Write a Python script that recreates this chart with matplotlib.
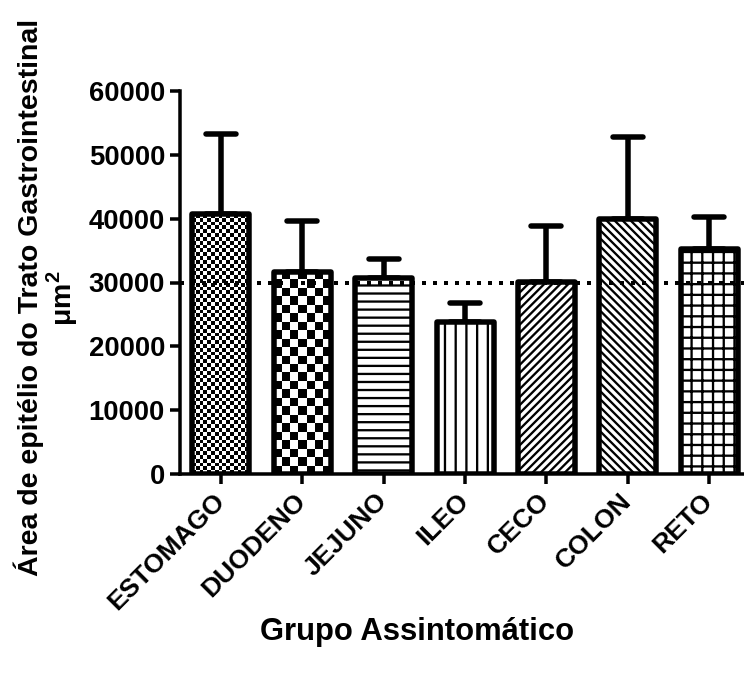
import numpy as np
import matplotlib
matplotlib.use('Agg')
import matplotlib.pyplot as plt
from matplotlib.markers import MarkerStyle

grupos = ['ESTOMAGO', 'DUODENO', 'JEJUNO', 'ILEO', 'CECO', 'COLON', 'RETO']
media = [40700, 31650, 30650, 23750, 30150, 39900, 35200]
desvio = [12600, 8050, 3050, 3050, 8750, 12900, 5050]
linha_ref = 30000

hachuras = [None, None, '----', '|||', '////////', '\\' * 8, '+++']
xadrez = {0: 3.8, 1: 8.3}   # tamanho da casa do xadrez em px

DPI = 193
def pt(px):
    return px * 72 / DPI

plt.rcParams['font.family'] = ['Liberation Sans', 'DejaVu Sans']
plt.rcParams['font.weight'] = 'bold'
plt.rcParams['mathtext.fontset'] = 'custom'
plt.rcParams['mathtext.bf'] = 'Liberation Sans:bold'
plt.rcParams['mathtext.rm'] = 'Liberation Sans:bold'
plt.rcParams['hatch.linewidth'] = pt(2.3)

fig = plt.figure(figsize=(744 / DPI, 677 / DPI), dpi=DPI)
ax = fig.add_axes([180 / 744, 1 - 474 / 677, 570 / 744, 383 / 677])
x = np.arange(len(grupos))
ax.set_xlim(-0.5, 6.5)
ax.set_ylim(0, 60000)

# barras de erro (só para cima)
eb = ax.errorbar(x, media, yerr=[np.zeros(len(x)), desvio], fmt='none',
                 ecolor='black', elinewidth=pt(5.5), capsize=pt(15),
                 capthick=pt(5.5), zorder=1)
for c in eb[1]:
    c.set_marker(MarkerStyle('_', capstyle='round'))

barras = ax.bar(x, media, width=0.7, color='white', edgecolor='black',
                linewidth=0, zorder=2)
for b, h in zip(barras, hachuras):
    if h:
        b.set_hatch(h)

# xadrez para estomago e duodeno
for i, cel in xadrez.items():
    b = barras[i]
    x0, x1 = b.get_x(), b.get_x() + b.get_width()
    (p0x, p0y), (p1x, p1y) = ax.transData.transform([(x0, 0), (x1, media[i])])
    nx = max(1, int(round((p1x - p0x) / cel)))
    ny = max(1, int(round((p1y - p0y) / cel)))
    tab = np.indices((ny, nx)).sum(axis=0) % 2
    im = ax.imshow(tab, cmap='gray_r', extent=[x0, x1, 0, media[i]],
                   aspect='auto', interpolation='nearest', zorder=2.5)
    im.set_clip_path(b)

contorno = ax.bar(x, media, width=0.7, fill=False, edgecolor='black',
                  linewidth=pt(5.5), zorder=3)
for b in contorno:
    b.set_joinstyle('round')

ax.axhline(linha_ref, color='black', lw=pt(4), linestyle=(0, (1, 1.75)), zorder=4)

ax.set_xlim(-0.5, 6.5)
ax.set_ylim(0, 60000)
ax.set_yticks(np.arange(0, 60001, 10000))
ax.set_xticks(x)
ax.set_xticklabels(grupos, rotation=45, ha='right', va='center',
                   rotation_mode='anchor')

for s in ['top', 'right']:
    ax.spines[s].set_visible(False)
for s in ['left', 'bottom']:
    ax.spines[s].set_linewidth(pt(3.5))
ax.spines['left'].set_bounds(0, 60000)

ax.tick_params(axis='both', width=pt(3.5), length=pt(10), labelsize=pt(27.5))
ax.tick_params(axis='y', pad=pt(5))
ax.tick_params(axis='x', pad=pt(13), labelsize=pt(26.5))

ax.set_ylabel('Área de epitélio do Trato Gastrointestinal\nμm$^{\\mathbf{2}}$',
              fontsize=pt(28.5), fontweight='bold', linespacing=1.0)
ax.yaxis.set_label_coords(-0.175, 0.46)
ax.set_xlabel('Grupo Assintomático', fontsize=pt(31), fontweight='bold')
ax.xaxis.set_label_coords(0.416, -0.373)

fig.savefig('out.png', dpi=DPI, facecolor='white')
